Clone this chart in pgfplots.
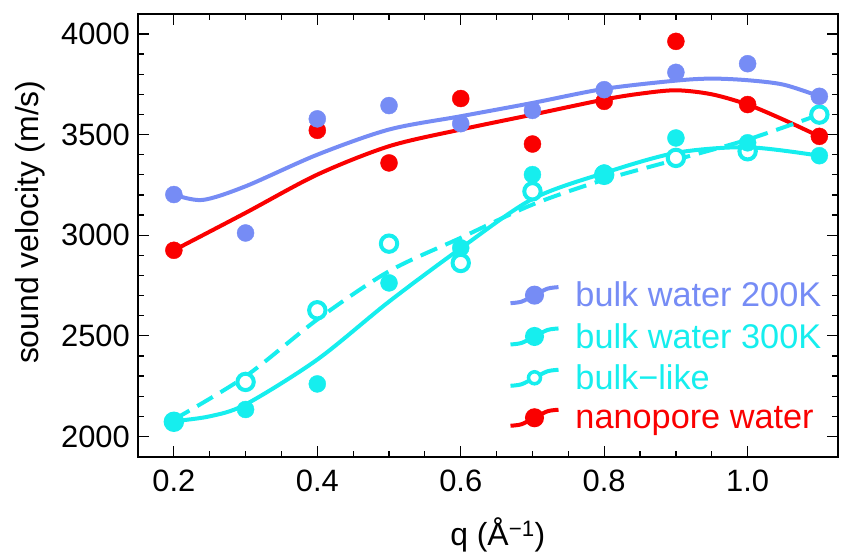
\documentclass[border=0pt]{standalone}
\usepackage{fontspec}
\setmainfont{Liberation Sans}
\usepackage{pgfplots}
\pgfplotsset{compat=1.18}
\definecolor{cblue}{RGB}{118,140,245}
\definecolor{ccyan}{RGB}{22,238,238}
\definecolor{cred}{RGB}{250,0,0}
\begin{document}
\begin{tikzpicture}
\begin{axis}[
 name=ax,
 scale only axis, width=700bp, height=443bp,
 xmin=0.15, xmax=1.126, ymin=1898, ymax=4099,
 xtick={0.2,0.4,0.6,0.8,1.0}, xticklabels={0.2,0.4,0.6,0.8,1.0},
 ytick={2000,2500,3000,3500,4000}, yticklabels={2000,2500,3000,3500,4000},
 minor x tick num=3, minor y tick num=4,
 tick align=inside,
 major tick length=11bp, minor tick length=6bp,
 axis line style={line width=1.5bp},
 every tick/.style={line width=1.2bp, black},
 tick label style={font=\fontsize{31}{36}\selectfont, inner sep=0pt},
 xticklabel style={yshift=-13bp},
 yticklabel style={xshift=-8bp},
 xlabel={q (Å\textsuperscript{−1})},
 ylabel={sound velocity (m/s)},
 xlabel style={font=\fontsize{32}{38}\selectfont, at={(axis description cs:0.514,-0.176)}, anchor=center},
 ylabel style={font=\fontsize{32}{38}\selectfont, at={(axis description cs:-0.154,0.53)}, anchor=center},
 legend style={draw=none, fill=none, at={(axis description cs:0.529,0.40)}, anchor=north west,
   font=\fontsize{34.4}{40}\selectfont, row sep=11bp, inner sep=0pt},
 legend cell align=left,
 legend image code/.code={\draw[#1, solid] plot[smooth, mark indices={3}] coordinates {(0bp,-8bp)(11bp,-6.5bp)(24bp,0bp)(37bp,6.5bp)(48bp,8bp)}; \path (61bp,0bp);},
]
% curves
\addplot[cred, line width=4bp, smooth, forget plot] coordinates {(0.2,2925)(0.3,3111)(0.4,3301)(0.5,3442)(0.6,3525)(0.7,3599)(0.8,3674)(0.85,3703)(0.9,3720)(0.95,3700)(1.0,3649)(1.05,3574)(1.1,3491)};
\addplot[ccyan, line width=4bp, smooth, dash pattern=on 18bp off 9bp, forget plot] coordinates {(0.2,2084)(0.3,2299)(0.4,2581)(0.5,2821)(0.6,2987)(0.7,3152)(0.8,3276)(0.9,3375)(1.0,3475)(1.1,3599)};
\addplot[ccyan, line width=4bp, smooth, forget plot] coordinates {(0.2,2076)(0.25,2100)(0.3,2159)(0.4,2382)(0.5,2670)(0.6,2935)(0.7,3180)(0.8,3309)(0.9,3409)(1.0,3437)(1.1,3395)};
\addplot[cblue, line width=4bp, smooth, forget plot] coordinates {(0.2,3202)(0.24,3175)(0.3,3243)(0.4,3400)(0.5,3525)(0.6,3591)(0.7,3657)(0.8,3727)(0.9,3768)(0.95,3778)(1.0,3770)(1.05,3748)(1.1,3690)};
% points
\addplot[only marks, mark=*, mark size=8.5bp, cred, mark options={draw=none, fill=cred}, forget plot] coordinates {(0.2,2925)(0.4,3521)(0.5,3359)(0.6,3679)(0.7,3453)(0.8,3665)(0.9,3963)(1.0,3649)(1.1,3491)};
\addplot[only marks, mark=*, mark size=8.2bp, line width=4bp, ccyan, mark options={draw=ccyan, fill=white, line width=4bp}, forget plot] coordinates {(0.2,2073)(0.3,2271)(0.4,2627)(0.5,2958)(0.6,2862)(0.7,3218)(0.8,3300)(0.9,3384)(1.0,3417)(1.1,3599)};
\addplot[only marks, mark=*, mark size=8.5bp, ccyan, mark options={draw=none, fill=ccyan}, forget plot] coordinates {(0.2,2073)(0.3,2134)(0.4,2261)(0.5,2763)(0.6,2937)(0.7,3301)(0.8,3309)(0.9,3483)(1.0,3459)(1.1,3395)};
\addplot[only marks, mark=*, mark size=8.5bp, cblue, mark options={draw=none, fill=cblue}, forget plot] coordinates {(0.2,3202)(0.3,3011)(0.4,3578)(0.5,3644)(0.6,3554)(0.7,3620)(0.8,3723)(0.9,3809)(1.0,3852)(1.1,3690)};
% legend
\addlegendimage{cblue, line width=4bp, mark=*, mark size=7.5bp, mark options={draw=none, fill=cblue}}
\addlegendentry{\textcolor{cblue}{bulk water 200K}}
\addlegendimage{ccyan, line width=4bp, mark=*, mark size=7.5bp, mark options={draw=none, fill=ccyan}}
\addlegendentry{\textcolor{ccyan}{bulk water 300K}}
\addlegendimage{ccyan, line width=4bp, mark=*, mark size=6bp, mark options={draw=ccyan, fill=white, line width=3.5bp}}
\addlegendentry{\textcolor{ccyan}{bulk−like}}
\addlegendimage{cred, line width=4bp, mark=*, mark size=7.5bp, mark options={draw=none, fill=cred}}
\addlegendentry{\textcolor{cred}{nanopore water}}
\end{axis}
\pgfresetboundingbox
\path[use as bounding box] ([shift={(-138bp,-100bp)}]ax.south west) rectangle ([shift={(10bp,14bp)}]ax.north east);
\end{tikzpicture}
\end{document}
